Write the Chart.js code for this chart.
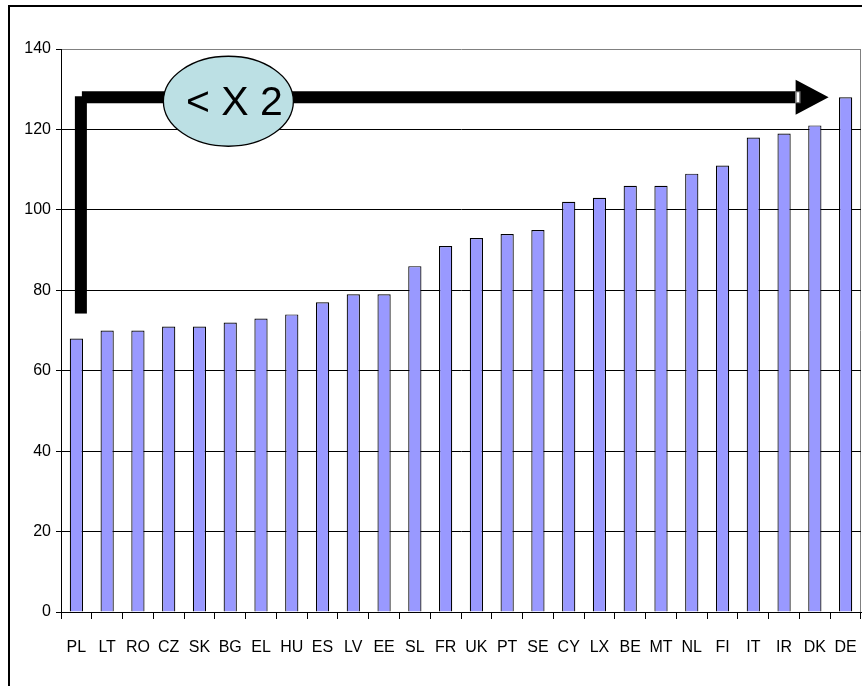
<!DOCTYPE html>
<html>
<head>
<meta charset="utf-8">
<script src="https://cdn.jsdelivr.net/npm/chart.js@4/dist/chart.umd.min.js"></script>
<style>
  html, body { margin: 0; padding: 0; background: #fff; }
  canvas { display: block; }
</style>
</head>
<body>
<canvas id="chart" width="867" height="686"></canvas>
<script>
// Country codes, ordered from lowest to highest
const categories = ['PL','LT','RO','CZ','SK','BG','EL','HU','ES','LV','EE','SL','FR','UK','PT','SE','CY','LX','BE','MT','NL','FI','IT','IR','DK','DE'];
// Index value per country
const values = [68,70,70,71,71,72,73,74,77,79,79,86,91,93,94,95,102,103,106,106,109,111,118,119,121,128];
// Value axis range and step
const yMin = 0;
const yMax = 140;
const yStep = 20;
// Text in the callout bubble
const calloutText = '< X 2';

const labelFont = "'Liberation Sans', Arial, sans-serif";

// Outer frame and the grey right edge of the plot area
const framePlugin = {
  id: 'frame',
  beforeDraw(chart) {
    const { ctx, chartArea } = chart;
    ctx.save();
    ctx.strokeStyle = '#000';
    ctx.lineWidth = 2;
    ctx.beginPath();
    ctx.moveTo(9, 686);
    ctx.lineTo(9, 6);
    ctx.lineTo(862, 6);
    ctx.stroke();
    ctx.strokeStyle = '#808080';
    ctx.lineWidth = 1;
    ctx.beginPath();
    ctx.moveTo(chartArea.right - 0.5, chartArea.top);
    ctx.lineTo(chartArea.right - 0.5, chartArea.bottom);
    ctx.stroke();
    ctx.restore();
  }
};

// L-shaped arrow from the lowest bar up to the highest one, with the callout bubble
const spreadArrowPlugin = {
  id: 'spreadArrow',
  afterDatasetsDraw(chart) {
    const { ctx, scales: { x, y } } = chart;
    const last = values.length - 1;
    const level = y.getPixelForValue(Math.max(...values));
    const x0 = x.getPixelForValue(0);
    const xEnd = x.getPixelForValue(last);
    const legBottom = y.getPixelForValue(values[0]) - 25;
    const shaft = 12;
    const headBase = xEnd - 50;
    const headTip = xEnd - 17;

    ctx.save();
    ctx.fillStyle = '#000';
    // vertical leg
    ctx.fillRect(x0 - 1.5, level - 1, shaft, legBottom - level + 1);
    // horizontal shaft
    ctx.fillRect(x0 + 5.5, level - 6, headBase - (x0 + 5.5), shaft);
    // arrow head
    ctx.beginPath();
    ctx.moveTo(headBase, level - 17.5);
    ctx.lineTo(headTip, level);
    ctx.lineTo(headBase, level + 17.5);
    ctx.closePath();
    ctx.fill();
    // small notch where the shaft meets the head
    ctx.fillStyle = '#fff';
    ctx.fillRect(headBase, level - 5.5, 4, 11);
    ctx.strokeStyle = '#666';
    ctx.lineWidth = 1;
    ctx.strokeRect(headBase + 0.5, level - 5.5, 4, 11);

    // callout bubble
    const cx = x0 + 152;
    const cy = level + 4;
    ctx.beginPath();
    ctx.ellipse(cx, cy, 65, 45, 0, 0, Math.PI * 2);
    ctx.fillStyle = '#BCE0E4';
    ctx.fill();
    ctx.strokeStyle = '#000';
    ctx.lineWidth = 1.3;
    ctx.stroke();
    ctx.fillStyle = '#000';
    ctx.font = "41px 'Liberation Sans', Arial, sans-serif";
    ctx.textAlign = 'center';
    ctx.textBaseline = 'middle';
    ctx.fillText(calloutText, cx + 6, cy + 2);
    ctx.restore();
  }
};

Chart.defaults.font.family = labelFont;
Chart.defaults.font.size = 16;
Chart.defaults.color = '#000';

new Chart(document.getElementById('chart'), {
  type: 'bar',
  data: {
    labels: categories,
    datasets: [{
      data: values,
      backgroundColor: '#9999FF',
      borderColor: '#000',
      borderWidth: 1.2,
      barPercentage: 0.43,
      categoryPercentage: 1.0
    }]
  },
  options: {
    responsive: false,
    animation: false,
    layout: { padding: { left: 0, top: 49, right: 6, bottom: 14 } },
    plugins: {
      legend: { display: false },
      tooltip: { enabled: false }
    },
    scales: {
      x: {
        offset: true,
        grid: {
          offset: true,
          drawOnChartArea: false,
          drawTicks: true,
          tickLength: 7,
          color: '#000',
          tickColor: '#000'
        },
        border: { display: true, color: '#000', width: 1 },
        ticks: { padding: 19, maxRotation: 0, autoSkip: false, font: { size: 16 } },
        afterFit(scale) {
          scale.height = 60;
          scale.paddingLeft = 0;
          scale.paddingRight = 0;
        }
      },
      y: {
        min: yMin,
        max: yMax,
        ticks: { stepSize: yStep, padding: 5, font: { size: 16 } },
        grid: {
          color: (ctx) => (ctx.tick && ctx.tick.value === yMax ? '#808080' : '#000'),
          tickColor: '#000',
          tickLength: 5,
          lineWidth: 1
        },
        border: { display: true, color: '#000', width: 1 },
        afterFit(scale) {
          scale.width = 61;
        }
      }
    }
  },
  plugins: [framePlugin, spreadArrowPlugin]
});
</script>
</body>
</html>
